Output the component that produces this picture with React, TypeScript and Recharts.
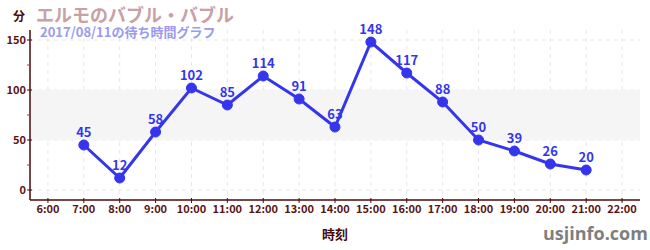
import React from 'react';
import { ComposedChart, Line, XAxis, YAxis, CartesianGrid, ReferenceArea, LabelList } from 'recharts';

const hours = [7, 8, 9, 10, 11, 12, 13, 14, 15, 16, 17, 18, 19, 20, 21];
const waits = [45, 12, 58, 102, 85, 114, 91, 63, 148, 117, 88, 50, 39, 26, 20];
const xTicks = [6, 7, 8, 9, 10, 11, 12, 13, 14, 15, 16, 17, 18, 19, 20, 21, 22];
const yTicks = [0, 25, 50, 75, 100, 125, 150];
const yGrid = [0, 50, 100, 150];

const data = hours.map((h, i) => ({ hour: h, wait: waits[i] }));

const FONT = '"Noto Sans CJK JP", "Noto Sans", sans-serif';
const AXIS = '#4a0a0a';
const TICKTEXT = '#5a1414';
const BLUE = '#3535ee';

const YTick = (props: any) => {
  const { x, y, payload } = props;
  const v = payload.value;
  const major = v % 50 === 0;
  const ax = x + 6;
  return (
    <g>
      {major ? (
        <line x1={ax - 3} x2={ax + 2} y1={y} y2={y} stroke={AXIS} strokeWidth={1} />
      ) : (
        <line x1={ax - 3} x2={ax} y1={y} y2={y} stroke="#dd2222" strokeWidth={1} />
      )}
      {major && (
        <text x={ax - 4} y={y} dy={4} textAnchor="end" fontSize={11} fontWeight="bold" fill={TICKTEXT} fontFamily={FONT}>
          {v}
        </text>
      )}
    </g>
  );
};

const XTick = (props: any) => {
  const { x, y, payload } = props;
  const ay = y - 6;
  return (
    <g>
      <line x1={x} x2={x} y1={ay - 2} y2={ay + 3} stroke={AXIS} strokeWidth={1} />
      <text x={x} y={ay + 13} textAnchor="middle" fontSize={11} fontWeight="bold" fill={TICKTEXT} fontFamily={FONT}>
        {`${payload.value}:00`}
      </text>
    </g>
  );
};

export default function App() {
  return (
    <div style={{ position: 'absolute', left: 0, top: 0, width: 650, height: 250, background: '#fff', fontFamily: FONT }}>
      <ComposedChart width={650} height={250} data={data} margin={{ top: 30, right: 10, bottom: 0, left: 0 }}>
        <ReferenceArea y1={50} y2={100} fill="#f5f5f5" fillOpacity={1} stroke="none" ifOverflow="hidden" />
        <CartesianGrid
          strokeDasharray="4 4"
          stroke="#e8e8e8"
          horizontalValues={yGrid}
          verticalValues={xTicks}
        />
        <XAxis
          dataKey="hour"
          type="number"
          domain={[5.5, 22.5]}
          ticks={xTicks}
          interval={0}
          height={50}
          tickLine={false}
          tickSize={4}
          tickMargin={2}
          axisLine={{ stroke: AXIS, strokeWidth: 1.5 }}
          tick={<XTick />}
          label={{ value: '時刻', position: 'insideBottom', offset: 11, fill: AXIS, fontSize: 13, fontWeight: 'bold', fontFamily: FONT }}
        />
        <YAxis
          type="number"
          domain={[-10, 160]}
          ticks={yTicks}
          interval={0}
          width={30}
          tickLine={false}
          tickSize={4}
          tickMargin={2}
          axisLine={{ stroke: AXIS, strokeWidth: 1.5 }}
          tick={<YTick />}
        />
        <Line
          dataKey="wait"
          stroke={BLUE}
          strokeWidth={3}
          dot={{ r: 5, fill: BLUE, stroke: BLUE, strokeWidth: 1 }}
          isAnimationActive={false}
        >
          <LabelList dataKey="wait" position="top" offset={8} fill={BLUE} fontSize={13} fontWeight="bold" fontFamily={FONT} />
        </Line>
      </ComposedChart>
      <div style={{ position: 'absolute', left: 13, top: 8, fontSize: 12, fontWeight: 'bold', color: AXIS, lineHeight: '16px' }}>分</div>
      <div style={{ position: 'absolute', left: 36, top: 5, fontSize: 18, fontWeight: 'bold', color: '#c9a0a4', lineHeight: '19px', whiteSpace: 'nowrap' }}>
        エルモのバブル・バブル
      </div>
      <div style={{ position: 'absolute', left: 40, top: 25, fontSize: 13, fontWeight: 'bold', color: '#9a9af0', lineHeight: '14px', whiteSpace: 'nowrap' }}>
        2017/08/11の待ち時間グラフ
      </div>
      <div style={{ position: 'absolute', left: 543, top: 221, fontSize: 18, fontWeight: 'bold', color: '#7f7f7f', lineHeight: '24px', fontFamily: '"Open Sans", sans-serif' }}>
        usjinfo.com
      </div>
    </div>
  );
}
